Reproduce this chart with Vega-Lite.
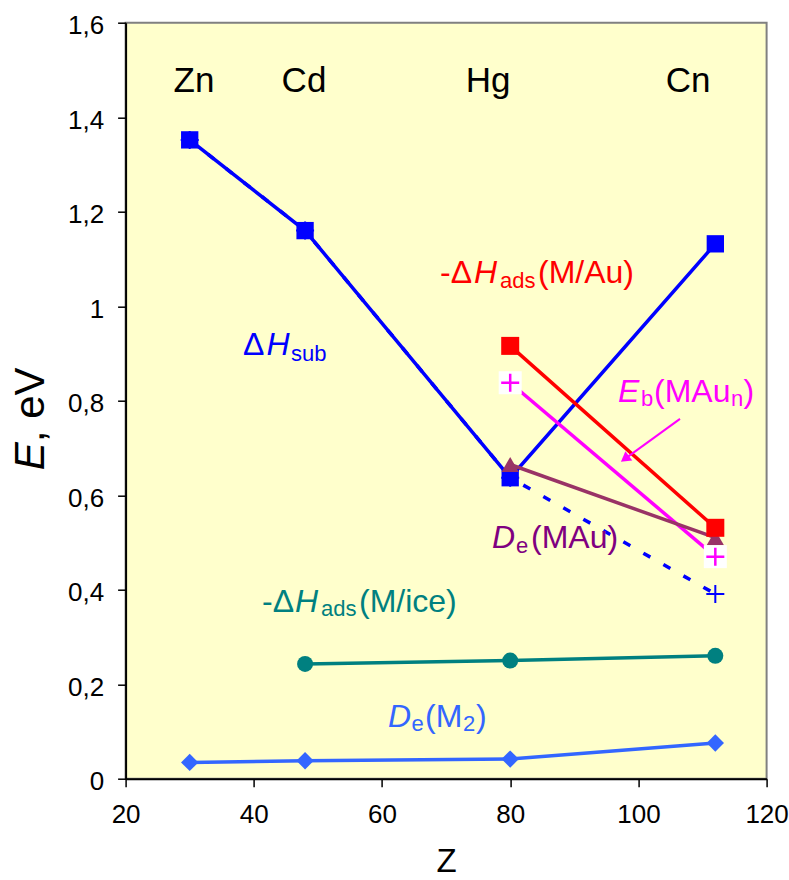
{
  "$schema": "https://vega.github.io/schema/vega-lite/v6.json",
  "width": 641,
  "height": 756,
  "autosize": "none",
  "padding": {"left": 125.6, "top": 22.7, "right": 22.4, "bottom": 101.3},
  "background": "#FFFFFF",
  "config": {"view": {"fill": "#FFFFCC", "stroke": "#808080", "strokeWidth": 2}, "font": "Liberation Sans"},
  "datasets": {
    "pts": [
      {"Z": 30, "E": 1.352, "s": "sub"}, {"Z": 48, "E": 1.16, "s": "sub"}, {"Z": 80, "E": 0.637, "s": "sub"}, {"Z": 112, "E": 1.132, "s": "sub"},
      {"Z": 30, "E": 1.352, "s": "subplus"}, {"Z": 48, "E": 1.16, "s": "subplus"}, {"Z": 80, "E": 0.637, "s": "subplus"}, {"Z": 112, "E": 0.391, "s": "subplus"},
      {"Z": 80, "E": 0.916, "s": "au"}, {"Z": 112, "E": 0.531, "s": "au"},
      {"Z": 80, "E": 0.838, "s": "eb"}, {"Z": 112, "E": 0.47, "s": "eb"},
      {"Z": 80, "E": 0.665, "s": "mau"}, {"Z": 112, "E": 0.51, "s": "mau"},
      {"Z": 48, "E": 0.243, "s": "ice"}, {"Z": 80, "E": 0.25, "s": "ice"}, {"Z": 112, "E": 0.26, "s": "ice"},
      {"Z": 30, "E": 0.0345, "s": "m2"}, {"Z": 48, "E": 0.038, "s": "m2"}, {"Z": 80, "E": 0.0416, "s": "m2"}, {"Z": 112, "E": 0.0755, "s": "m2"}
    ],
    "labels": [
      {"Z": 30.67, "E": 1.453, "t": "Zn", "k": "el", "s": "elem"},
      {"Z": 47.83, "E": 1.453, "t": "Cd", "k": "el", "s": "elem"},
      {"Z": 76.54, "E": 1.453, "t": "Hg", "k": "el", "s": "elem"},
      {"Z": 107.74, "E": 1.453, "t": "Cn", "k": "el", "s": "elem"},
      {"Z": 38.32, "E": 0.897, "t": "Δ", "k": "n", "s": "sub"},
      {"Z": 41.98, "E": 0.897, "t": "H", "k": "i", "s": "sub"},
      {"Z": 45.8, "E": 0.884, "t": "sub", "k": "sub", "s": "sub"},
      {"Z": 69.05, "E": 1.049, "t": "-Δ", "k": "n", "s": "au"},
      {"Z": 74.35, "E": 1.049, "t": "H", "k": "i", "s": "au"},
      {"Z": 78.41, "E": 1.039, "t": "ads", "k": "sub", "s": "au"},
      {"Z": 84.34, "E": 1.049, "t": "(M/Au)", "k": "n", "s": "au"},
      {"Z": 96.82, "E": 0.7976, "t": "E", "k": "i", "s": "eb"},
      {"Z": 100.41, "E": 0.7885, "t": "b", "k": "sub", "s": "eb"},
      {"Z": 102.44, "E": 0.7976, "t": "(MAu", "k": "n", "s": "eb"},
      {"Z": 114.45, "E": 0.7885, "t": "n", "k": "sub", "s": "eb"},
      {"Z": 116.4, "E": 0.7976, "t": ")", "k": "n", "s": "eb"},
      {"Z": 77.16, "E": 0.4887, "t": "D", "k": "i", "s": "mautext"},
      {"Z": 80.9, "E": 0.478, "t": "e", "k": "sub", "s": "mautext"},
      {"Z": 83.25, "E": 0.4887, "t": "(MAu)", "k": "n", "s": "mautext"},
      {"Z": 41.28, "E": 0.353, "t": "-Δ", "k": "n", "s": "ice"},
      {"Z": 46.43, "E": 0.353, "t": "H", "k": "i", "s": "ice"},
      {"Z": 50.48, "E": 0.345, "t": "ads", "k": "sub", "s": "ice"},
      {"Z": 56.41, "E": 0.353, "t": "(M/ice)", "k": "n", "s": "ice"},
      {"Z": 60.94, "E": 0.11, "t": "D", "k": "i", "s": "m2"},
      {"Z": 64.6, "E": 0.1015, "t": "e", "k": "sub", "s": "m2"},
      {"Z": 66.71, "E": 0.11, "t": "(M", "k": "n", "s": "m2"},
      {"Z": 72.64, "E": 0.1015, "t": "2", "k": "sub", "s": "m2"},
      {"Z": 74.67, "E": 0.11, "t": ")", "k": "n", "s": "m2"}
    ],
    "arrow": [{"Z": 106.49, "E": 0.7616, "Z2": 97.89, "E2": 0.677}]
  },
  "layer": [
    {
      "layer": [
        {
          "data": {"name": "pts"},
          "transform": [{"filter": "datum.s == 'subplus'"}],
          "mark": {"type": "line", "color": "#0000FF", "strokeWidth": 3.5, "strokeDash": [8, 15]},
          "encoding": {
            "x": {"field": "Z", "type": "quantitative", "scale": {"domain": [20, 120], "nice": false, "zero": false},
              "axis": {"values": [20, 40, 60, 80, 100, 120], "grid": false, "labelFont": "Liberation Sans", "labelFontSize": 26, "labelColor": "#000000", "labelFlush": false, "labelOverlap": false, "labelPadding": 15, "tickColor": "#000000", "tickSize": 8, "tickWidth": 1.5, "domainColor": "#000000", "domainWidth": 2, "title": "Z", "titleFont": "Liberation Sans", "titleFontSize": 33, "titleFontWeight": "normal", "titleColor": "#000000", "titleBaseline": "alphabetic", "titleAlign": "center", "titleX": 320.5, "titleY": 93}},
            "y": {"field": "E", "type": "quantitative", "scale": {"domain": [0, 1.6], "nice": false},
              "axis": {"orient": "left", "values": [0, 0.2, 0.4, 0.6, 0.8, 1, 1.2, 1.4, 1.6], "labelExpr": "replace(format(datum.value, '.1~f'), '.', ',')", "grid": false, "labelFont": "Liberation Sans", "labelFontSize": 26, "labelColor": "#000000", "labelFlush": false, "labelOverlap": false, "labelPadding": 14, "labelOffset": 3, "tickColor": "#000000", "tickSize": 8, "tickWidth": 1.5, "domainColor": "#000000", "domainWidth": 2, "title": "E", "titleFont": "Liberation Sans", "titleFontSize": 42, "titleFontStyle": "italic", "titleFontWeight": "normal", "titleColor": "#000000", "titleAngle": -90, "titleAlign": "left", "titleBaseline": "alphabetic", "titleX": -82.6, "titleY": 447}}
          }
        },
        {
          "data": {"name": "pts"},
          "transform": [{"filter": "indexof(['sub','au','eb','mau','ice','m2'], datum.s) >= 0"}],
          "mark": {"type": "line", "strokeWidth": 3.5},
          "encoding": {
            "x": {"field": "Z", "type": "quantitative"},
            "y": {"field": "E", "type": "quantitative"},
            "color": {"field": "s", "type": "nominal", "legend": null,
              "scale": {"domain": ["sub", "subplus", "au", "eb", "mau", "ice", "m2", "elem", "mautext"], "range": ["#0000FF", "#0000FF", "#FF0000", "#FF00FF", "#993366", "#008080", "#3366FF", "#000000", "#800080"]}}
          }
        },
        {
          "data": {"name": "pts"},
          "transform": [{"filter": "datum.s == 'subplus'"}],
          "mark": {"type": "point", "shape": "M-1,0L1,0M0,-1L0,1", "filled": false, "stroke": "#0000FF", "strokeWidth": 2, "size": 324, "opacity": 1},
          "encoding": {"x": {"field": "Z", "type": "quantitative"}, "y": {"field": "E", "type": "quantitative"}}
        },
        {
          "data": {"name": "pts"},
          "transform": [{"filter": "datum.s == 'sub'"}],
          "mark": {"type": "point", "shape": "square", "filled": true, "color": "#0000FF", "size": 300, "opacity": 1},
          "encoding": {"x": {"field": "Z", "type": "quantitative"}, "y": {"field": "E", "type": "quantitative"}}
        },
        {
          "data": {"name": "pts"},
          "transform": [{"filter": "datum.s == 'ice'"}],
          "mark": {"type": "point", "shape": "circle", "filled": true, "color": "#008080", "size": 256, "opacity": 1},
          "encoding": {"x": {"field": "Z", "type": "quantitative"}, "y": {"field": "E", "type": "quantitative"}}
        },
        {
          "data": {"name": "pts"},
          "transform": [{"filter": "datum.s == 'm2'"}],
          "mark": {"type": "point", "shape": "diamond", "filled": true, "color": "#3366FF", "size": 300, "opacity": 1},
          "encoding": {"x": {"field": "Z", "type": "quantitative"}, "y": {"field": "E", "type": "quantitative"}}
        },
        {
          "data": {"name": "pts"},
          "transform": [{"filter": "datum.s == 'mau'"}],
          "mark": {"type": "point", "shape": "triangle-up", "filled": true, "color": "#993366", "size": 300, "opacity": 1},
          "encoding": {"x": {"field": "Z", "type": "quantitative"}, "y": {"field": "E", "type": "quantitative"}}
        },
        {
          "data": {"name": "pts"},
          "transform": [{"filter": "datum.s == 'eb'"}],
          "mark": {"type": "point", "shape": "square", "filled": true, "color": "#FFFFFF", "size": 529, "opacity": 1},
          "encoding": {"x": {"field": "Z", "type": "quantitative"}, "y": {"field": "E", "type": "quantitative"}}
        },
        {
          "data": {"name": "pts"},
          "transform": [{"filter": "datum.s == 'eb'"}],
          "mark": {"type": "point", "shape": "M-1,0L1,0M0,-1L0,1", "filled": false, "stroke": "#FF00FF", "strokeWidth": 2.5, "size": 324, "opacity": 1},
          "encoding": {"x": {"field": "Z", "type": "quantitative"}, "y": {"field": "E", "type": "quantitative"}}
        },
        {
          "data": {"name": "pts"},
          "transform": [{"filter": "datum.s == 'au'"}],
          "mark": {"type": "point", "shape": "square", "filled": true, "color": "#FF0000", "size": 324, "opacity": 1},
          "encoding": {"x": {"field": "Z", "type": "quantitative"}, "y": {"field": "E", "type": "quantitative"}}
        },
        {
          "data": {"name": "arrow"},
          "mark": {"type": "rule", "color": "#FF00FF", "strokeWidth": 2},
          "encoding": {"x": {"field": "Z", "type": "quantitative"}, "y": {"field": "E", "type": "quantitative"}, "x2": {"field": "Z2"}, "y2": {"field": "E2"}}
        },
        {
          "data": {"name": "arrow"},
          "mark": {"type": "point", "shape": "triangle-up", "filled": true, "color": "#FF00FF", "size": 130, "angle": 233, "opacity": 1},
          "encoding": {"x": {"field": "Z2", "type": "quantitative"}, "y": {"field": "E2", "type": "quantitative"}}
        },
        {
          "data": {"name": "labels"},
          "transform": [{"filter": "datum.k == 'n'"}],
          "mark": {"type": "text", "align": "left", "baseline": "alphabetic", "font": "Liberation Sans", "fontSize": 32},
          "encoding": {"x": {"field": "Z", "type": "quantitative"}, "y": {"field": "E", "type": "quantitative"}, "text": {"field": "t"},
            "color": {"field": "s", "type": "nominal", "legend": null,
              "scale": {"domain": ["sub", "subplus", "au", "eb", "mau", "ice", "m2", "elem", "mautext"], "range": ["#0000FF", "#0000FF", "#FF0000", "#FF00FF", "#993366", "#008080", "#3366FF", "#000000", "#800080"]}}}
        },
        {
          "data": {"name": "labels"},
          "transform": [{"filter": "datum.k == 'i'"}],
          "mark": {"type": "text", "align": "left", "baseline": "alphabetic", "font": "Liberation Sans", "fontSize": 32, "fontStyle": "italic"},
          "encoding": {"x": {"field": "Z", "type": "quantitative"}, "y": {"field": "E", "type": "quantitative"}, "text": {"field": "t"},
            "color": {"field": "s", "type": "nominal", "legend": null,
              "scale": {"domain": ["sub", "subplus", "au", "eb", "mau", "ice", "m2", "elem", "mautext"], "range": ["#0000FF", "#0000FF", "#FF0000", "#FF00FF", "#993366", "#008080", "#3366FF", "#000000", "#800080"]}}}
        },
        {
          "data": {"name": "labels"},
          "transform": [{"filter": "datum.k == 'sub'"}],
          "mark": {"type": "text", "align": "left", "baseline": "alphabetic", "font": "Liberation Sans", "fontSize": 22},
          "encoding": {"x": {"field": "Z", "type": "quantitative"}, "y": {"field": "E", "type": "quantitative"}, "text": {"field": "t"},
            "color": {"field": "s", "type": "nominal", "legend": null,
              "scale": {"domain": ["sub", "subplus", "au", "eb", "mau", "ice", "m2", "elem", "mautext"], "range": ["#0000FF", "#0000FF", "#FF0000", "#FF00FF", "#993366", "#008080", "#3366FF", "#000000", "#800080"]}}}
        },
        {
          "data": {"name": "labels"},
          "transform": [{"filter": "datum.k == 'el'"}],
          "mark": {"type": "text", "align": "center", "baseline": "alphabetic", "font": "Liberation Sans", "fontSize": 35, "color": "#000000"},
          "encoding": {"x": {"field": "Z", "type": "quantitative"}, "y": {"field": "E", "type": "quantitative"}, "text": {"field": "t"}}
        }
      ]
    },
    {
      "data": {"name": "labels"},
      "mark": {"type": "point", "opacity": 0},
      "encoding": {
        "y": {"field": "E", "type": "quantitative", "scale": {"domain": [0, 1.6], "nice": false},
          "axis": {"orient": "right", "title": ", eV", "labels": false, "ticks": false, "domain": false, "grid": false, "titleFont": "Liberation Sans", "titleFontSize": 42, "titleFontWeight": "normal", "titleColor": "#000000", "titleAngle": -90, "titleAlign": "left", "titleBaseline": "alphabetic", "titleX": -723.6, "titleY": 419}}
      }
    }
  ],
  "resolve": {"scale": {"y": "independent"}, "axis": {"y": "independent"}}
}
